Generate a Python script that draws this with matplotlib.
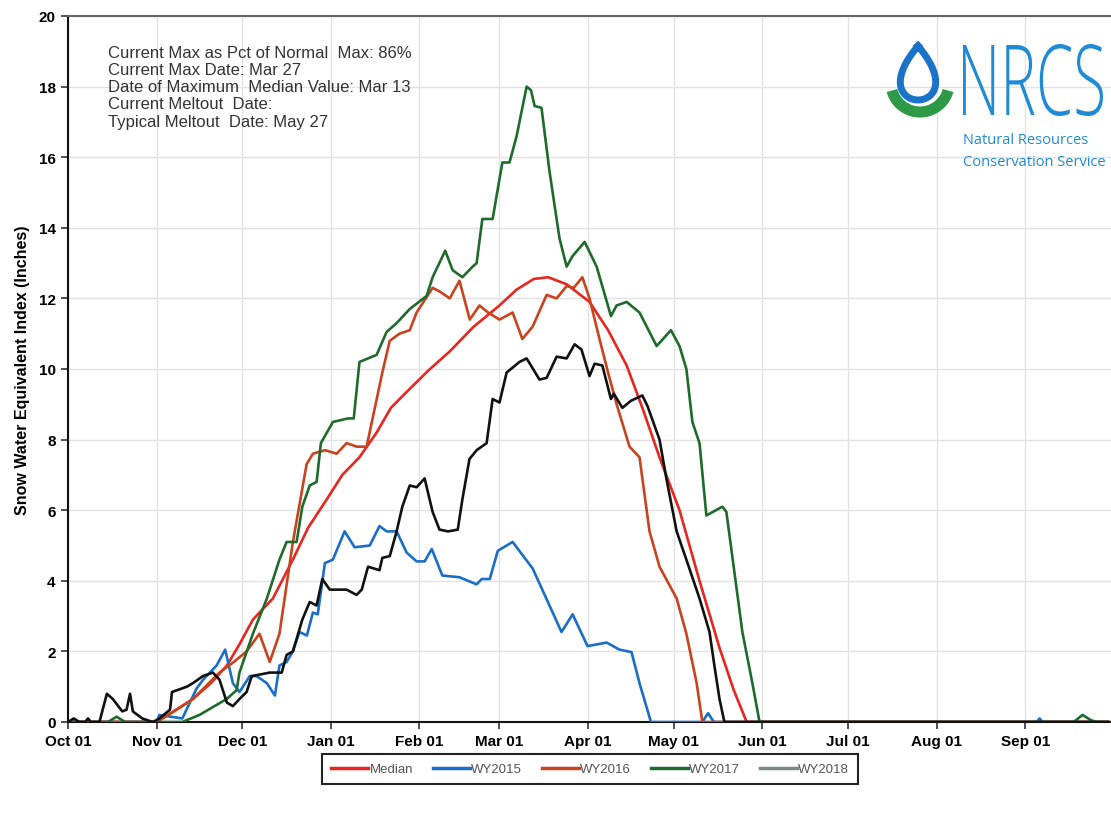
import numpy as np
import matplotlib
matplotlib.use('Agg')
from matplotlib import pyplot as plt
from matplotlib.lines import Line2D
from matplotlib.patches import PathPatch
from matplotlib.textpath import TextPath
from matplotlib.font_manager import FontProperties
from matplotlib.transforms import Affine2D, IdentityTransform

# days since Oct 01
month_days = [0, 31, 61, 92, 123, 151, 182, 212, 243, 273, 304, 335]
month_labels = ['Oct 01', 'Nov 01', 'Dec 01', 'Jan 01', 'Feb 01', 'Mar 01',
                'Apr 01', 'May 01', 'Jun 01', 'Jul 01', 'Aug 01', 'Sep 01']

median_days = [0, 31, 37, 43.7, 50, 55.6, 60, 64.7, 71.7, 78.7, 84, 90.5, 96, 102, 108, 113,
               118.5, 126, 133.6, 142, 151, 157, 163, 168, 174.5, 182.5, 189, 195.5, 201,
               207, 214, 221, 228, 233, 237.5, 364]
median_swe = [0, 0, 0.3, 0.65, 1.1, 1.6, 2.2, 2.9, 3.5, 4.6, 5.5, 6.3, 7.0, 7.5, 8.2, 8.9,
              9.35, 9.95, 10.5, 11.2, 11.8, 12.25, 12.55, 12.6, 12.4, 11.9, 11.1, 10.1, 8.9,
              7.5, 6.0, 4.0, 2.1, 0.9, 0, 0]

wy2015_days = [0, 31, 32, 40, 45, 47.3, 52, 55, 57.7, 60, 63.6, 66, 69.6, 72.4, 74, 76.5,
               78.7, 81, 83.6, 85.7, 87.4, 89.9, 92.7, 96.8, 100.3, 105.6, 109, 111.5, 115,
               118.5, 122, 124.8, 127.3, 131, 137, 143, 144.8, 147.6, 150.4, 155.6, 162.6,
               168.5, 172.7, 176.6, 181.8, 188.5, 193, 197.2, 200, 204, 222, 224, 226,
               339, 340, 341, 364]
wy2015_swe = [0, 0, 0.2, 0.1, 0.95, 1.2, 1.6, 2.05, 1.1, 0.85, 1.3, 1.3, 1.1, 0.75, 1.6, 1.7,
              2.0, 2.55, 2.45, 3.1, 3.05, 4.5, 4.6, 5.4, 4.95, 5.0, 5.55, 5.4, 5.4,
              4.8, 4.55, 4.55, 4.9, 4.15, 4.1, 3.9, 4.05, 4.05, 4.85, 5.1, 4.35,
              3.3, 2.55, 3.05, 2.15, 2.25, 2.05, 1.98, 1.1, 0, 0, 0.25, 0,
              0, 0.1, 0, 0]

wy2016_days = [0, 31, 37, 43.7, 53, 58, 62.5, 67, 70.6, 74, 78.7, 83.5, 85.7, 90, 94, 97.5,
               101, 104.5, 110, 112.6, 116, 119.6, 122, 127.6, 130, 133.6, 137, 140.6, 144,
               147, 151, 155.6, 159, 162.6, 167.5, 171, 174.5, 177, 180, 182.5, 186, 189,
               192, 196.5, 200, 203.5, 207, 213, 216.4, 220, 222, 364]
wy2016_swe = [0, 0, 0.3, 0.65, 1.4, 1.7, 2.0, 2.5, 1.7, 2.5, 5.1, 7.3, 7.6, 7.7, 7.6, 7.9,
              7.8, 7.8, 9.9, 10.8, 11.0, 11.1, 11.6, 12.3, 12.2, 12.0, 12.5, 11.4, 11.8,
              11.6, 11.4, 11.6, 10.85, 11.2, 12.1, 12.0, 12.35, 12.3, 12.6, 12.0, 10.85, 9.9,
              9.0, 7.8, 7.5, 5.4, 4.4, 3.5, 2.5, 1.1, 0, 0]

wy2017_days = [0, 14, 17, 20, 40, 46, 55.5, 59, 60, 64.7, 69.6, 74, 76.5, 80, 82, 84.6, 87,
               88.5, 92.7, 98, 100, 102, 108, 111.5, 115, 119.6, 125.5, 127.6, 132, 134.6,
               138, 141.6, 143, 145, 148.6, 152, 154.5, 157, 160.5, 162, 163.3, 165.7, 168.5,
               172, 174.5, 176.6, 180.8, 185, 190, 192, 195.5, 200, 206, 211, 214, 216.4,
               218.5, 221, 223.4, 229, 230.4, 236, 239.5, 242, 352, 355, 358, 360, 364]
wy2017_swe = [0, 0, 0.15, 0, 0, 0.2, 0.65, 0.9, 1.4, 2.5, 3.5, 4.6, 5.1, 5.1, 6.1, 6.7, 6.8,
              7.9, 8.5, 8.6, 8.6, 10.2, 10.4, 11.05, 11.3, 11.7, 12.07, 12.6, 13.35, 12.8,
              12.6, 12.9, 13.0, 14.25, 14.25, 15.85, 15.85, 16.6, 18.0, 17.9, 17.45, 17.4, 15.6,
              13.7, 12.9, 13.2, 13.6, 12.9, 11.5, 11.8, 11.9, 11.6, 10.65, 11.1, 10.65, 10.0,
              8.5, 7.9, 5.85, 6.1, 5.95, 2.55, 1.1, 0, 0, 0.2, 0.05, 0, 0]

wy2018_days = [0, 2, 4, 6, 7, 8, 11, 13.6, 15.7, 19, 20.5, 21.7, 22.7, 26, 29.7, 32, 35.7,
               36.4, 41.6, 43.7, 47.2, 50.7, 53, 55.6, 57.7, 60, 62.5, 64.3, 70.6, 74.8, 76.5,
               78.7, 82, 84.6, 87, 89, 91.6, 97.5, 101, 102.8, 105, 109, 110, 112.6, 115, 117,
               119.6, 122, 124.8, 127.6, 130, 133, 136.4, 138, 140.5, 143, 146.5, 148.6, 151,
               153.5, 158, 160.5, 165, 167.5, 171, 174.5, 177.3, 179.7, 182.5, 184.3, 187,
               190, 191, 194, 197, 201, 202.8, 207, 209.4, 213, 216.4, 221, 224.5, 226.2,
               228, 229.7, 364]
wy2018_swe = [0, 0.1, 0, 0, 0.1, 0, 0, 0.8, 0.65, 0.3, 0.35, 0.8, 0.3, 0.1, 0, 0.1, 0.35,
              0.85, 1.0, 1.1, 1.3, 1.4, 1.2, 0.55, 0.45, 0.65, 0.85, 1.3, 1.4, 1.4, 1.9,
              2.0, 2.9, 3.4, 3.3, 4.05, 3.75, 3.75, 3.6, 3.75, 4.4, 4.3, 4.65, 4.7, 5.4, 6.1,
              6.7, 6.65, 6.9, 5.95, 5.45, 5.4, 5.45, 6.3, 7.45, 7.7, 7.9, 9.15, 9.05,
              9.9, 10.2, 10.3, 9.7, 9.75, 10.35, 10.3, 10.7, 10.55, 9.8, 10.15, 10.1,
              9.15, 9.3, 8.9, 9.1, 9.25, 8.95, 8.0, 6.9, 5.4, 4.6, 3.5, 2.55, 1.6,
              0.65, 0, 0]

info_lines = ['Current Max as Pct of Normal  Max: 86%',
              'Current Max Date: Mar 27',
              'Date of Maximum  Median Value: Mar 13',
              'Current Meltout  Date:',
              'Typical Meltout  Date: May 27']

W, H = 1111, 828
fig = plt.figure(figsize=(W / 100, H / 100), dpi=100)
ax = fig.add_axes([68 / W, 1 - 723 / H, 1 - 68 / W, (723 - 17) / H])

lw = 1.9
ax.plot(median_days, median_swe, color='#e8251f', lw=lw, zorder=3)
ax.plot(wy2015_days, wy2015_swe, color='#1a6ec8', lw=lw, zorder=3)
ax.plot(wy2016_days, wy2016_swe, color='#c9431e', lw=lw, zorder=3)
ax.plot(wy2017_days, wy2017_swe, color='#1e6b2c', lw=lw, zorder=3)
ax.plot(wy2018_days, wy2018_swe, color='#111111', lw=lw, zorder=4)

ax.set_xlim(0, 365)
ax.set_ylim(0, 20)
ax.set_xticks(month_days)
ax.set_xticklabels(month_labels)
ax.set_yticks(np.arange(0, 21, 2))
ax.grid(True, color='#e2e2e2', lw=1)
ax.set_axisbelow(True)
for lab in ax.get_xticklabels() + ax.get_yticklabels():
    lab.set_fontweight('bold')
    lab.set_fontsize(11)
    lab.set_family('Liberation Sans')
ax.tick_params(axis='both', direction='out', length=5, width=1.2, color='#333333', pad=4)
ax.spines['left'].set_color('#111111')
ax.spines['left'].set_linewidth(1.5)
ax.spines['bottom'].set_color('#111111')
ax.spines['bottom'].set_linewidth(1.5)
ax.spines['top'].set_color('#666666')
ax.spines['top'].set_linewidth(1.5)
ax.spines['right'].set_visible(False)
ax.set_ylabel('Snow Water Equivalent Index (Inches)', fontsize=11.5, fontweight='bold',
              family='Liberation Sans', labelpad=6)

# info block
for i, line in enumerate(info_lines):
    fig.text(108 / W, 1 - (53 + i * 17.3) / H, line, fontsize=12, family='Liberation Sans',
             color='#333333', va='center', ha='left')

# legend
handles = [Line2D([], [], color='#e8251f', lw=2.5),
           Line2D([], [], color='#1a6ec8', lw=2.5),
           Line2D([], [], color='#c9431e', lw=2.5),
           Line2D([], [], color='#1e6b2c', lw=2.5),
           Line2D([], [], color='#7a8a80', lw=2.5)]
leg = fig.legend(handles, ['Median', 'WY2015', 'WY2016', 'WY2017', 'WY2018'],
                 loc='center', bbox_to_anchor=(590 / W, 1 - 770 / H), ncol=5,
                 fancybox=False, framealpha=1, edgecolor='#222222',
                 prop={'family': 'Liberation Sans', 'size': 9.5},
                 handlelength=2.8, handletextpad=0.1, columnspacing=1.5,
                 borderpad=0.7)
leg.get_frame().set_linewidth(1.5)
for t in leg.get_texts():
    t.set_color('#555555')

# NRCS logo
blue = '#1f8ad6'
t = np.linspace(0, 2 * np.pi, 200)
dx = 918 + 23 * np.sin(t) * np.sin(t / 2)
dy = H - (74 - 27 * np.cos(t))
fig.add_artist(Line2D(dx, dy, color='#1a73c8', lw=5, transform=IdentityTransform(),
                      solid_joinstyle='round'))
a = np.linspace(np.radians(195), np.radians(345), 100)
fig.add_artist(Line2D(920 + 29 * np.cos(a), (H - 84) + 29 * np.sin(a), color='#2e9a48',
                      lw=8, transform=IdentityTransform(), solid_capstyle='butt'))

tp = TextPath((0, 0), 'NRCS', size=100, prop=FontProperties(family='Open Sans', weight='light'))
ext = tp.get_extents()
tr = Affine2D().translate(-ext.x0, -ext.y0).scale(140 / ext.width, 72 / ext.height).translate(963, H - 117)
fig.add_artist(PathPatch(tr.transform_path(tp), fc=blue, ec='none', transform=IdentityTransform()))
fig.text(963 / W, 1 - 141 / H, 'Natural Resources', fontsize=10.5, color=blue,
         family='Open Sans', va='center', ha='left')
fig.text(963 / W, 1 - 162 / H, 'Conservation Service', fontsize=10.5, color=blue,
         family='Open Sans', va='center', ha='left')

plt.savefig('out.png', dpi=100)
